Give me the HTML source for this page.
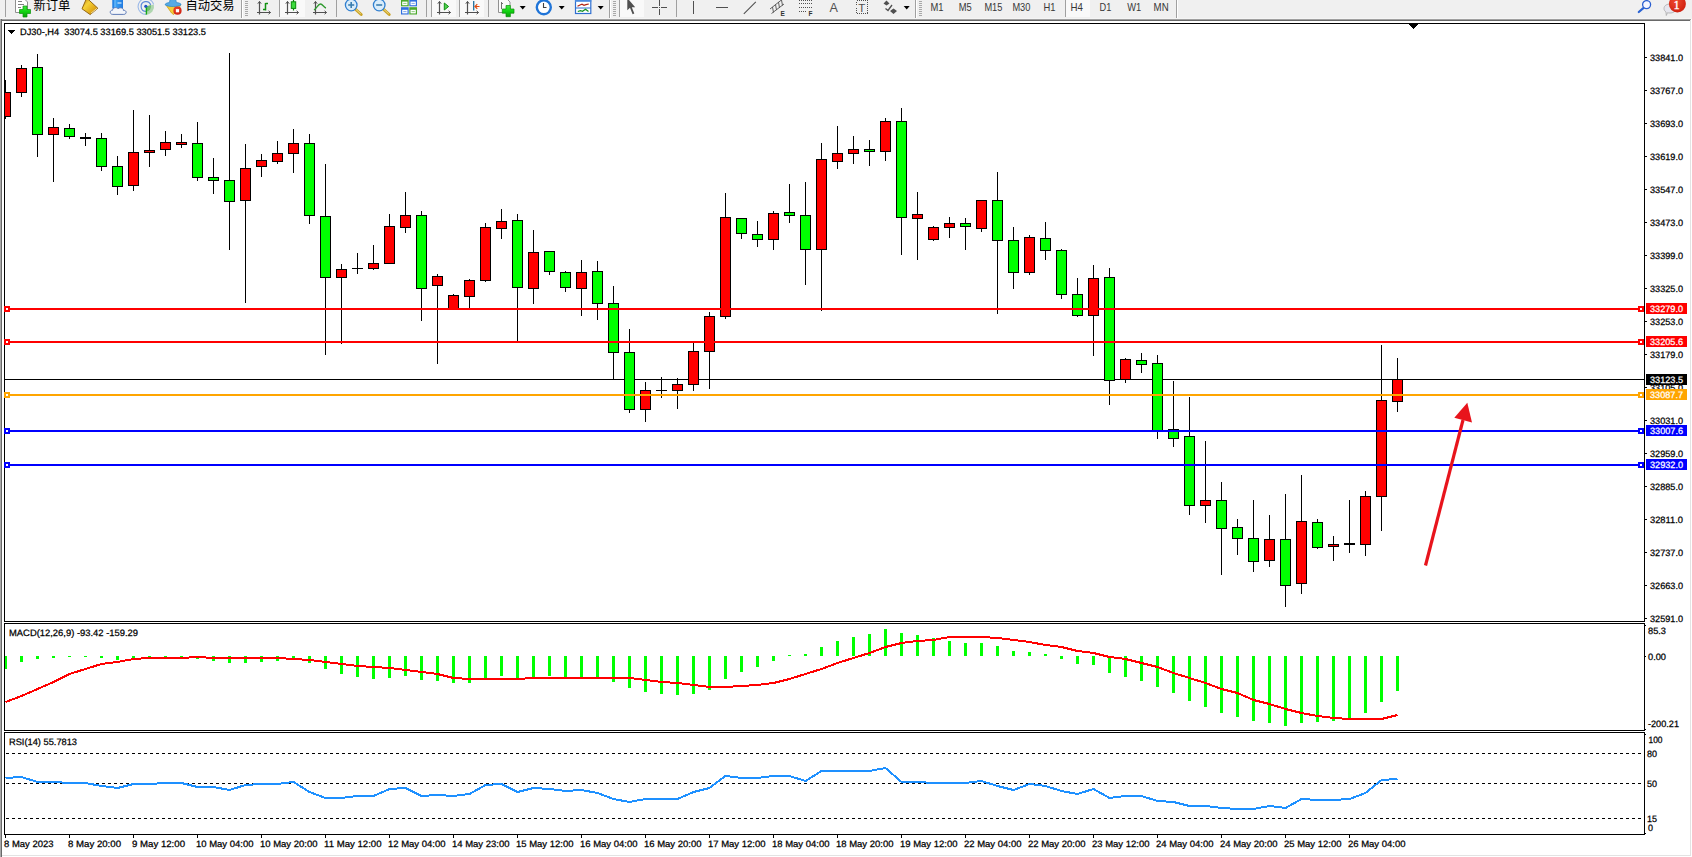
<!DOCTYPE html>
<html><head><meta charset="utf-8"><title>DJ30 H4</title>
<style>
html,body{margin:0;padding:0;background:#fff;}
body{width:1692px;height:857px;position:relative;overflow:hidden;font-family:"Liberation Sans","Noto Sans CJK SC",sans-serif;}
#frame-t{position:absolute;left:0;top:18px;width:1691px;height:3px;background:linear-gradient(180deg,#f5f5f5 0,#f5f5f5 1px,#a0a0a0 1px,#a0a0a0 2px,#696969 2px,#696969 3px);}
#frame-l{position:absolute;left:0;top:19px;width:2px;height:838px;background:linear-gradient(90deg,#a8a8a8 0,#a8a8a8 1px,#696969 1px,#696969 2px);}
#frame-r{position:absolute;left:1690px;top:20px;width:1px;height:836px;background:#e3e3e3;}
#frame-b{position:absolute;left:2px;top:855px;width:1689px;height:1px;background:#e3e3e3;}
#tb{position:absolute;left:0;top:0;width:1692px;height:19px;background:#f0f0f0;overflow:hidden;}
</style></head><body>
<svg width="1692" height="857" viewBox="0 0 1692 857" style="position:absolute;left:0;top:0" shape-rendering="crispEdges" text-rendering="geometricPrecision"><rect x="4" y="23" width="1641" height="1" fill="#000"/>
<rect x="4" y="621" width="1641" height="1" fill="#000"/>
<rect x="4" y="623" width="1641" height="1" fill="#000"/>
<rect x="4" y="730" width="1641" height="1" fill="#000"/>
<rect x="4" y="732" width="1641" height="1" fill="#000"/>
<rect x="4" y="834" width="1641" height="1" fill="#000"/>
<rect x="4" y="23" width="1" height="812" fill="#000"/>
<rect x="1644" y="23" width="1" height="812" fill="#000"/>
<rect x="4" y="622" width="1" height="1" fill="#fff"/>
<rect x="1644" y="622" width="1" height="1" fill="#fff"/>
<rect x="4" y="731" width="1" height="1" fill="#fff"/>
<rect x="1644" y="731" width="1" height="1" fill="#fff"/>
<rect x="5" y="379" width="1639" height="1" fill="#000"/>
<rect x="5" y="80" width="1" height="39" fill="#000"/>
<rect x="0" y="92" width="11" height="25" fill="#000"/>
<rect x="1" y="93" width="9" height="23" fill="#ff0000"/>
<rect x="21" y="65" width="1" height="32" fill="#000"/>
<rect x="16" y="68" width="11" height="25" fill="#000"/>
<rect x="17" y="69" width="9" height="23" fill="#ff0000"/>
<rect x="37" y="54" width="1" height="103" fill="#000"/>
<rect x="32" y="67" width="11" height="68" fill="#000"/>
<rect x="33" y="68" width="9" height="66" fill="#00ff00"/>
<rect x="53" y="118" width="1" height="64" fill="#000"/>
<rect x="48" y="127" width="11" height="8" fill="#000"/>
<rect x="49" y="128" width="9" height="6" fill="#ff0000"/>
<rect x="69" y="124" width="1" height="15" fill="#000"/>
<rect x="64" y="128" width="11" height="9" fill="#000"/>
<rect x="65" y="129" width="9" height="7" fill="#00ff00"/>
<rect x="85" y="133" width="1" height="13" fill="#000"/>
<rect x="80" y="137" width="11" height="2" fill="#000"/>
<rect x="101" y="133" width="1" height="38" fill="#000"/>
<rect x="96" y="138" width="11" height="29" fill="#000"/>
<rect x="97" y="139" width="9" height="27" fill="#00ff00"/>
<rect x="117" y="156" width="1" height="39" fill="#000"/>
<rect x="112" y="166" width="11" height="21" fill="#000"/>
<rect x="113" y="167" width="9" height="19" fill="#00ff00"/>
<rect x="133" y="110" width="1" height="81" fill="#000"/>
<rect x="128" y="152" width="11" height="34" fill="#000"/>
<rect x="129" y="153" width="9" height="32" fill="#ff0000"/>
<rect x="149" y="115" width="1" height="52" fill="#000"/>
<rect x="144" y="150" width="11" height="3" fill="#000"/>
<rect x="145" y="151" width="9" height="1" fill="#ff0000"/>
<rect x="165" y="131" width="1" height="25" fill="#000"/>
<rect x="160" y="142" width="11" height="8" fill="#000"/>
<rect x="161" y="143" width="9" height="6" fill="#ff0000"/>
<rect x="181" y="134" width="1" height="14" fill="#000"/>
<rect x="176" y="142" width="11" height="3" fill="#000"/>
<rect x="177" y="143" width="9" height="1" fill="#ff0000"/>
<rect x="197" y="122" width="1" height="59" fill="#000"/>
<rect x="192" y="143" width="11" height="35" fill="#000"/>
<rect x="193" y="144" width="9" height="33" fill="#00ff00"/>
<rect x="213" y="158" width="1" height="36" fill="#000"/>
<rect x="208" y="177" width="11" height="4" fill="#000"/>
<rect x="209" y="178" width="9" height="2" fill="#00ff00"/>
<rect x="229" y="53" width="1" height="197" fill="#000"/>
<rect x="224" y="180" width="11" height="22" fill="#000"/>
<rect x="225" y="181" width="9" height="20" fill="#00ff00"/>
<rect x="245" y="144" width="1" height="159" fill="#000"/>
<rect x="240" y="168" width="11" height="33" fill="#000"/>
<rect x="241" y="169" width="9" height="31" fill="#ff0000"/>
<rect x="261" y="154" width="1" height="23" fill="#000"/>
<rect x="256" y="160" width="11" height="7" fill="#000"/>
<rect x="257" y="161" width="9" height="5" fill="#ff0000"/>
<rect x="277" y="141" width="1" height="23" fill="#000"/>
<rect x="272" y="153" width="11" height="9" fill="#000"/>
<rect x="273" y="154" width="9" height="7" fill="#ff0000"/>
<rect x="293" y="129" width="1" height="44" fill="#000"/>
<rect x="288" y="143" width="11" height="11" fill="#000"/>
<rect x="289" y="144" width="9" height="9" fill="#ff0000"/>
<rect x="309" y="134" width="1" height="90" fill="#000"/>
<rect x="304" y="143" width="11" height="73" fill="#000"/>
<rect x="305" y="144" width="9" height="71" fill="#00ff00"/>
<rect x="325" y="164" width="1" height="191" fill="#000"/>
<rect x="320" y="216" width="11" height="62" fill="#000"/>
<rect x="321" y="217" width="9" height="60" fill="#00ff00"/>
<rect x="341" y="264" width="1" height="80" fill="#000"/>
<rect x="336" y="269" width="11" height="9" fill="#000"/>
<rect x="337" y="270" width="9" height="7" fill="#ff0000"/>
<rect x="357" y="253" width="1" height="21" fill="#000"/>
<rect x="352" y="268" width="11" height="1" fill="#000"/>
<rect x="373" y="245" width="1" height="25" fill="#000"/>
<rect x="368" y="263" width="11" height="6" fill="#000"/>
<rect x="369" y="264" width="9" height="4" fill="#ff0000"/>
<rect x="389" y="214" width="1" height="50" fill="#000"/>
<rect x="384" y="226" width="11" height="38" fill="#000"/>
<rect x="385" y="227" width="9" height="36" fill="#ff0000"/>
<rect x="405" y="192" width="1" height="41" fill="#000"/>
<rect x="400" y="215" width="11" height="13" fill="#000"/>
<rect x="401" y="216" width="9" height="11" fill="#ff0000"/>
<rect x="421" y="211" width="1" height="110" fill="#000"/>
<rect x="416" y="215" width="11" height="74" fill="#000"/>
<rect x="417" y="216" width="9" height="72" fill="#00ff00"/>
<rect x="437" y="274" width="1" height="90" fill="#000"/>
<rect x="432" y="276" width="11" height="10" fill="#000"/>
<rect x="433" y="277" width="9" height="8" fill="#ff0000"/>
<rect x="453" y="294" width="1" height="16" fill="#000"/>
<rect x="448" y="295" width="11" height="15" fill="#000"/>
<rect x="449" y="296" width="9" height="13" fill="#ff0000"/>
<rect x="469" y="279" width="1" height="29" fill="#000"/>
<rect x="464" y="280" width="11" height="17" fill="#000"/>
<rect x="465" y="281" width="9" height="15" fill="#ff0000"/>
<rect x="485" y="223" width="1" height="59" fill="#000"/>
<rect x="480" y="227" width="11" height="54" fill="#000"/>
<rect x="481" y="228" width="9" height="52" fill="#ff0000"/>
<rect x="501" y="209" width="1" height="30" fill="#000"/>
<rect x="496" y="221" width="11" height="8" fill="#000"/>
<rect x="497" y="222" width="9" height="6" fill="#ff0000"/>
<rect x="517" y="214" width="1" height="127" fill="#000"/>
<rect x="512" y="220" width="11" height="68" fill="#000"/>
<rect x="513" y="221" width="9" height="66" fill="#00ff00"/>
<rect x="533" y="230" width="1" height="74" fill="#000"/>
<rect x="528" y="252" width="11" height="37" fill="#000"/>
<rect x="529" y="253" width="9" height="35" fill="#ff0000"/>
<rect x="549" y="251" width="1" height="24" fill="#000"/>
<rect x="544" y="251" width="11" height="21" fill="#000"/>
<rect x="545" y="252" width="9" height="19" fill="#00ff00"/>
<rect x="565" y="271" width="1" height="21" fill="#000"/>
<rect x="560" y="272" width="11" height="16" fill="#000"/>
<rect x="561" y="273" width="9" height="14" fill="#00ff00"/>
<rect x="581" y="260" width="1" height="56" fill="#000"/>
<rect x="576" y="272" width="11" height="17" fill="#000"/>
<rect x="577" y="273" width="9" height="15" fill="#ff0000"/>
<rect x="597" y="261" width="1" height="59" fill="#000"/>
<rect x="592" y="271" width="11" height="33" fill="#000"/>
<rect x="593" y="272" width="9" height="31" fill="#00ff00"/>
<rect x="613" y="286" width="1" height="93" fill="#000"/>
<rect x="608" y="303" width="11" height="50" fill="#000"/>
<rect x="609" y="304" width="9" height="48" fill="#00ff00"/>
<rect x="629" y="329" width="1" height="84" fill="#000"/>
<rect x="624" y="352" width="11" height="58" fill="#000"/>
<rect x="625" y="353" width="9" height="56" fill="#00ff00"/>
<rect x="645" y="382" width="1" height="40" fill="#000"/>
<rect x="640" y="390" width="11" height="20" fill="#000"/>
<rect x="641" y="391" width="9" height="18" fill="#ff0000"/>
<rect x="661" y="377" width="1" height="21" fill="#000"/>
<rect x="656" y="390" width="11" height="1" fill="#000"/>
<rect x="677" y="378" width="1" height="31" fill="#000"/>
<rect x="672" y="384" width="11" height="7" fill="#000"/>
<rect x="673" y="385" width="9" height="5" fill="#ff0000"/>
<rect x="693" y="343" width="1" height="48" fill="#000"/>
<rect x="688" y="351" width="11" height="34" fill="#000"/>
<rect x="689" y="352" width="9" height="32" fill="#ff0000"/>
<rect x="709" y="312" width="1" height="77" fill="#000"/>
<rect x="704" y="316" width="11" height="36" fill="#000"/>
<rect x="705" y="317" width="9" height="34" fill="#ff0000"/>
<rect x="725" y="193" width="1" height="126" fill="#000"/>
<rect x="720" y="217" width="11" height="100" fill="#000"/>
<rect x="721" y="218" width="9" height="98" fill="#ff0000"/>
<rect x="741" y="218" width="1" height="21" fill="#000"/>
<rect x="736" y="218" width="11" height="16" fill="#000"/>
<rect x="737" y="219" width="9" height="14" fill="#00ff00"/>
<rect x="757" y="221" width="1" height="26" fill="#000"/>
<rect x="752" y="234" width="11" height="6" fill="#000"/>
<rect x="753" y="235" width="9" height="4" fill="#00ff00"/>
<rect x="773" y="211" width="1" height="39" fill="#000"/>
<rect x="768" y="213" width="11" height="27" fill="#000"/>
<rect x="769" y="214" width="9" height="25" fill="#ff0000"/>
<rect x="789" y="184" width="1" height="39" fill="#000"/>
<rect x="784" y="212" width="11" height="4" fill="#000"/>
<rect x="785" y="213" width="9" height="2" fill="#00ff00"/>
<rect x="805" y="182" width="1" height="103" fill="#000"/>
<rect x="800" y="215" width="11" height="35" fill="#000"/>
<rect x="801" y="216" width="9" height="33" fill="#00ff00"/>
<rect x="821" y="143" width="1" height="168" fill="#000"/>
<rect x="816" y="159" width="11" height="91" fill="#000"/>
<rect x="817" y="160" width="9" height="89" fill="#ff0000"/>
<rect x="837" y="126" width="1" height="43" fill="#000"/>
<rect x="832" y="153" width="11" height="9" fill="#000"/>
<rect x="833" y="154" width="9" height="7" fill="#ff0000"/>
<rect x="853" y="136" width="1" height="28" fill="#000"/>
<rect x="848" y="149" width="11" height="5" fill="#000"/>
<rect x="849" y="150" width="9" height="3" fill="#ff0000"/>
<rect x="869" y="140" width="1" height="26" fill="#000"/>
<rect x="864" y="149" width="11" height="3" fill="#000"/>
<rect x="865" y="150" width="9" height="1" fill="#00ff00"/>
<rect x="885" y="118" width="1" height="43" fill="#000"/>
<rect x="880" y="121" width="11" height="31" fill="#000"/>
<rect x="881" y="122" width="9" height="29" fill="#ff0000"/>
<rect x="901" y="108" width="1" height="147" fill="#000"/>
<rect x="896" y="121" width="11" height="97" fill="#000"/>
<rect x="897" y="122" width="9" height="95" fill="#00ff00"/>
<rect x="917" y="192" width="1" height="68" fill="#000"/>
<rect x="912" y="214" width="11" height="5" fill="#000"/>
<rect x="913" y="215" width="9" height="3" fill="#ff0000"/>
<rect x="933" y="226" width="1" height="15" fill="#000"/>
<rect x="928" y="227" width="11" height="13" fill="#000"/>
<rect x="929" y="228" width="9" height="11" fill="#ff0000"/>
<rect x="949" y="217" width="1" height="21" fill="#000"/>
<rect x="944" y="223" width="11" height="5" fill="#000"/>
<rect x="945" y="224" width="9" height="3" fill="#ff0000"/>
<rect x="965" y="218" width="1" height="32" fill="#000"/>
<rect x="960" y="223" width="11" height="4" fill="#000"/>
<rect x="961" y="224" width="9" height="2" fill="#00ff00"/>
<rect x="981" y="200" width="1" height="32" fill="#000"/>
<rect x="976" y="200" width="11" height="29" fill="#000"/>
<rect x="977" y="201" width="9" height="27" fill="#ff0000"/>
<rect x="997" y="172" width="1" height="142" fill="#000"/>
<rect x="992" y="200" width="11" height="41" fill="#000"/>
<rect x="993" y="201" width="9" height="39" fill="#00ff00"/>
<rect x="1013" y="227" width="1" height="62" fill="#000"/>
<rect x="1008" y="240" width="11" height="33" fill="#000"/>
<rect x="1009" y="241" width="9" height="31" fill="#00ff00"/>
<rect x="1029" y="235" width="1" height="40" fill="#000"/>
<rect x="1024" y="237" width="11" height="36" fill="#000"/>
<rect x="1025" y="238" width="9" height="34" fill="#ff0000"/>
<rect x="1045" y="222" width="1" height="38" fill="#000"/>
<rect x="1040" y="238" width="11" height="13" fill="#000"/>
<rect x="1041" y="239" width="9" height="11" fill="#00ff00"/>
<rect x="1061" y="249" width="1" height="50" fill="#000"/>
<rect x="1056" y="250" width="11" height="45" fill="#000"/>
<rect x="1057" y="251" width="9" height="43" fill="#00ff00"/>
<rect x="1077" y="278" width="1" height="39" fill="#000"/>
<rect x="1072" y="294" width="11" height="22" fill="#000"/>
<rect x="1073" y="295" width="9" height="20" fill="#00ff00"/>
<rect x="1093" y="265" width="1" height="91" fill="#000"/>
<rect x="1088" y="278" width="11" height="38" fill="#000"/>
<rect x="1089" y="279" width="9" height="36" fill="#ff0000"/>
<rect x="1109" y="268" width="1" height="137" fill="#000"/>
<rect x="1104" y="277" width="11" height="104" fill="#000"/>
<rect x="1105" y="278" width="9" height="102" fill="#00ff00"/>
<rect x="1125" y="358" width="1" height="25" fill="#000"/>
<rect x="1120" y="359" width="11" height="21" fill="#000"/>
<rect x="1121" y="360" width="9" height="19" fill="#ff0000"/>
<rect x="1141" y="353" width="1" height="20" fill="#000"/>
<rect x="1136" y="360" width="11" height="5" fill="#000"/>
<rect x="1137" y="361" width="9" height="3" fill="#00ff00"/>
<rect x="1157" y="355" width="1" height="84" fill="#000"/>
<rect x="1152" y="363" width="11" height="69" fill="#000"/>
<rect x="1153" y="364" width="9" height="67" fill="#00ff00"/>
<rect x="1173" y="381" width="1" height="66" fill="#000"/>
<rect x="1168" y="429" width="11" height="10" fill="#000"/>
<rect x="1169" y="430" width="9" height="8" fill="#00ff00"/>
<rect x="1189" y="397" width="1" height="118" fill="#000"/>
<rect x="1184" y="436" width="11" height="70" fill="#000"/>
<rect x="1185" y="437" width="9" height="68" fill="#00ff00"/>
<rect x="1205" y="441" width="1" height="82" fill="#000"/>
<rect x="1200" y="500" width="11" height="6" fill="#000"/>
<rect x="1201" y="501" width="9" height="4" fill="#ff0000"/>
<rect x="1221" y="482" width="1" height="93" fill="#000"/>
<rect x="1216" y="500" width="11" height="29" fill="#000"/>
<rect x="1217" y="501" width="9" height="27" fill="#00ff00"/>
<rect x="1237" y="519" width="1" height="36" fill="#000"/>
<rect x="1232" y="527" width="11" height="12" fill="#000"/>
<rect x="1233" y="528" width="9" height="10" fill="#00ff00"/>
<rect x="1253" y="500" width="1" height="72" fill="#000"/>
<rect x="1248" y="538" width="11" height="24" fill="#000"/>
<rect x="1249" y="539" width="9" height="22" fill="#00ff00"/>
<rect x="1269" y="515" width="1" height="52" fill="#000"/>
<rect x="1264" y="539" width="11" height="22" fill="#000"/>
<rect x="1265" y="540" width="9" height="20" fill="#ff0000"/>
<rect x="1285" y="494" width="1" height="113" fill="#000"/>
<rect x="1280" y="539" width="11" height="47" fill="#000"/>
<rect x="1281" y="540" width="9" height="45" fill="#00ff00"/>
<rect x="1301" y="475" width="1" height="119" fill="#000"/>
<rect x="1296" y="521" width="11" height="63" fill="#000"/>
<rect x="1297" y="522" width="9" height="61" fill="#ff0000"/>
<rect x="1317" y="519" width="1" height="30" fill="#000"/>
<rect x="1312" y="522" width="11" height="26" fill="#000"/>
<rect x="1313" y="523" width="9" height="24" fill="#00ff00"/>
<rect x="1333" y="536" width="1" height="25" fill="#000"/>
<rect x="1328" y="544" width="11" height="3" fill="#000"/>
<rect x="1329" y="545" width="9" height="1" fill="#ff0000"/>
<rect x="1349" y="500" width="1" height="53" fill="#000"/>
<rect x="1344" y="543" width="11" height="2" fill="#000"/>
<rect x="1365" y="491" width="1" height="65" fill="#000"/>
<rect x="1360" y="496" width="11" height="49" fill="#000"/>
<rect x="1361" y="497" width="9" height="47" fill="#ff0000"/>
<rect x="1381" y="345" width="1" height="186" fill="#000"/>
<rect x="1376" y="400" width="11" height="97" fill="#000"/>
<rect x="1377" y="401" width="9" height="95" fill="#ff0000"/>
<rect x="1397" y="358" width="1" height="54" fill="#000"/>
<rect x="1392" y="379" width="11" height="23" fill="#000"/>
<rect x="1393" y="380" width="9" height="21" fill="#ff0000"/>
<rect x="0" y="21" width="4" height="836" fill="#fff"/>
<rect x="4" y="24" width="1" height="597" fill="#000"/>
<rect x="5" y="308" width="1639" height="2" fill="#ff0000"/>
<rect x="4" y="306" width="6" height="6" fill="#ff0000"/>
<rect x="6" y="308" width="2" height="2" fill="#fff"/>
<rect x="1638" y="306" width="6" height="6" fill="#ff0000"/>
<rect x="1640" y="308" width="2" height="2" fill="#fff"/>
<rect x="5" y="341" width="1639" height="2" fill="#ff0000"/>
<rect x="4" y="339" width="6" height="6" fill="#ff0000"/>
<rect x="6" y="341" width="2" height="2" fill="#fff"/>
<rect x="1638" y="339" width="6" height="6" fill="#ff0000"/>
<rect x="1640" y="341" width="2" height="2" fill="#fff"/>
<rect x="5" y="394" width="1639" height="2" fill="#ffa500"/>
<rect x="4" y="392" width="6" height="6" fill="#ffa500"/>
<rect x="6" y="394" width="2" height="2" fill="#fff"/>
<rect x="1638" y="392" width="6" height="6" fill="#ffa500"/>
<rect x="1640" y="394" width="2" height="2" fill="#fff"/>
<rect x="5" y="430" width="1639" height="2" fill="#0000ff"/>
<rect x="4" y="428" width="6" height="6" fill="#0000ff"/>
<rect x="6" y="430" width="2" height="2" fill="#fff"/>
<rect x="1638" y="428" width="6" height="6" fill="#0000ff"/>
<rect x="1640" y="430" width="2" height="2" fill="#fff"/>
<rect x="5" y="464" width="1639" height="2" fill="#0000ff"/>
<rect x="4" y="462" width="6" height="6" fill="#0000ff"/>
<rect x="6" y="464" width="2" height="2" fill="#fff"/>
<rect x="1638" y="462" width="6" height="6" fill="#0000ff"/>
<rect x="1640" y="464" width="2" height="2" fill="#fff"/>
<line x1="1425.5" y1="565.5" x2="1463" y2="420" stroke="#e8141c" stroke-width="3.2" shape-rendering="auto"/>
<polygon points="1467.3,402.8 1454.3,417.8 1472,422.6" fill="#e8141c" shape-rendering="auto"/>
<g style="font-family:'Liberation Sans',sans-serif">
<rect x="1645" y="57" width="2" height="1" fill="#000"/>
<text x="1650" y="60.5" font-size="9.2" fill="#000" stroke="#000" stroke-width="0.25" text-anchor="start" textLength="33" lengthAdjust="spacingAndGlyphs">33841.0</text>
<rect x="1645" y="90" width="2" height="1" fill="#000"/>
<text x="1650" y="93.5" font-size="9.2" fill="#000" stroke="#000" stroke-width="0.25" text-anchor="start" textLength="33" lengthAdjust="spacingAndGlyphs">33767.0</text>
<rect x="1645" y="123" width="2" height="1" fill="#000"/>
<text x="1650" y="126.5" font-size="9.2" fill="#000" stroke="#000" stroke-width="0.25" text-anchor="start" textLength="33" lengthAdjust="spacingAndGlyphs">33693.0</text>
<rect x="1645" y="156" width="2" height="1" fill="#000"/>
<text x="1650" y="159.5" font-size="9.2" fill="#000" stroke="#000" stroke-width="0.25" text-anchor="start" textLength="33" lengthAdjust="spacingAndGlyphs">33619.0</text>
<rect x="1645" y="189" width="2" height="1" fill="#000"/>
<text x="1650" y="192.5" font-size="9.2" fill="#000" stroke="#000" stroke-width="0.25" text-anchor="start" textLength="33" lengthAdjust="spacingAndGlyphs">33547.0</text>
<rect x="1645" y="222" width="2" height="1" fill="#000"/>
<text x="1650" y="225.5" font-size="9.2" fill="#000" stroke="#000" stroke-width="0.25" text-anchor="start" textLength="33" lengthAdjust="spacingAndGlyphs">33473.0</text>
<rect x="1645" y="255" width="2" height="1" fill="#000"/>
<text x="1650" y="258.5" font-size="9.2" fill="#000" stroke="#000" stroke-width="0.25" text-anchor="start" textLength="33" lengthAdjust="spacingAndGlyphs">33399.0</text>
<rect x="1645" y="288" width="2" height="1" fill="#000"/>
<text x="1650" y="291.5" font-size="9.2" fill="#000" stroke="#000" stroke-width="0.25" text-anchor="start" textLength="33" lengthAdjust="spacingAndGlyphs">33325.0</text>
<rect x="1645" y="321" width="2" height="1" fill="#000"/>
<text x="1650" y="324.5" font-size="9.2" fill="#000" stroke="#000" stroke-width="0.25" text-anchor="start" textLength="33" lengthAdjust="spacingAndGlyphs">33253.0</text>
<rect x="1645" y="354" width="2" height="1" fill="#000"/>
<text x="1650" y="357.5" font-size="9.2" fill="#000" stroke="#000" stroke-width="0.25" text-anchor="start" textLength="33" lengthAdjust="spacingAndGlyphs">33179.0</text>
<rect x="1645" y="387" width="2" height="1" fill="#000"/>
<text x="1650" y="390.5" font-size="9.2" fill="#000" stroke="#000" stroke-width="0.25" text-anchor="start" textLength="33" lengthAdjust="spacingAndGlyphs">33105.0</text>
<rect x="1645" y="420" width="2" height="1" fill="#000"/>
<text x="1650" y="423.5" font-size="9.2" fill="#000" stroke="#000" stroke-width="0.25" text-anchor="start" textLength="33" lengthAdjust="spacingAndGlyphs">33031.0</text>
<rect x="1645" y="453" width="2" height="1" fill="#000"/>
<text x="1650" y="456.5" font-size="9.2" fill="#000" stroke="#000" stroke-width="0.25" text-anchor="start" textLength="33" lengthAdjust="spacingAndGlyphs">32959.0</text>
<rect x="1645" y="486" width="2" height="1" fill="#000"/>
<text x="1650" y="489.5" font-size="9.2" fill="#000" stroke="#000" stroke-width="0.25" text-anchor="start" textLength="33" lengthAdjust="spacingAndGlyphs">32885.0</text>
<rect x="1645" y="519" width="2" height="1" fill="#000"/>
<text x="1650" y="522.5" font-size="9.2" fill="#000" stroke="#000" stroke-width="0.25" text-anchor="start" textLength="33" lengthAdjust="spacingAndGlyphs">32811.0</text>
<rect x="1645" y="552" width="2" height="1" fill="#000"/>
<text x="1650" y="555.5" font-size="9.2" fill="#000" stroke="#000" stroke-width="0.25" text-anchor="start" textLength="33" lengthAdjust="spacingAndGlyphs">32737.0</text>
<rect x="1645" y="585" width="2" height="1" fill="#000"/>
<text x="1650" y="588.5" font-size="9.2" fill="#000" stroke="#000" stroke-width="0.25" text-anchor="start" textLength="33" lengthAdjust="spacingAndGlyphs">32663.0</text>
<rect x="1645" y="618" width="2" height="1" fill="#000"/>
<text x="1650" y="621.5" font-size="9.2" fill="#000" stroke="#000" stroke-width="0.25" text-anchor="start" textLength="33" lengthAdjust="spacingAndGlyphs">32591.0</text>
<rect x="1646" y="303" width="41" height="11" fill="#ff0000"/>
<text x="1650" y="311.8" font-size="9.2" fill="#fff" stroke="#fff" stroke-width="0.25" text-anchor="start" textLength="33" lengthAdjust="spacingAndGlyphs">33279.0</text>
<rect x="1646" y="336" width="41" height="11" fill="#ff0000"/>
<text x="1650" y="344.8" font-size="9.2" fill="#fff" stroke="#fff" stroke-width="0.25" text-anchor="start" textLength="33" lengthAdjust="spacingAndGlyphs">33205.6</text>
<rect x="1646" y="389" width="41" height="11" fill="#ffa500"/>
<text x="1650" y="397.8" font-size="9.2" fill="#fff" stroke="#fff" stroke-width="0.25" text-anchor="start" textLength="33" lengthAdjust="spacingAndGlyphs">33087.7</text>
<rect x="1646" y="425" width="41" height="11" fill="#0000ff"/>
<text x="1650" y="433.8" font-size="9.2" fill="#fff" stroke="#fff" stroke-width="0.25" text-anchor="start" textLength="33" lengthAdjust="spacingAndGlyphs">33007.6</text>
<rect x="1646" y="459" width="41" height="11" fill="#0000ff"/>
<text x="1650" y="467.8" font-size="9.2" fill="#fff" stroke="#fff" stroke-width="0.25" text-anchor="start" textLength="33" lengthAdjust="spacingAndGlyphs">32932.0</text>
<rect x="1646" y="374" width="41" height="11" fill="#000"/>
<text x="1650" y="382.7" font-size="9.2" fill="#fff" stroke="#fff" stroke-width="0.25" text-anchor="start" textLength="33" lengthAdjust="spacingAndGlyphs">33123.5</text>
<rect x="1646" y="389" width="41" height="11" fill="#ffa500"/>
<text x="1650" y="397.8" font-size="9.2" fill="#fff" stroke="#fff" stroke-width="0.25" text-anchor="start" textLength="33" lengthAdjust="spacingAndGlyphs">33087.7</text>
<rect x="4" y="656" width="3" height="13" fill="#00ff00"/>
<rect x="20" y="656" width="3" height="6" fill="#00ff00"/>
<rect x="36" y="656" width="3" height="3" fill="#00ff00"/>
<rect x="52" y="656" width="3" height="2" fill="#00ff00"/>
<rect x="68" y="656" width="3" height="1" fill="#00ff00"/>
<rect x="84" y="656" width="3" height="1" fill="#00ff00"/>
<rect x="100" y="656" width="3" height="2" fill="#00ff00"/>
<rect x="116" y="656" width="3" height="4" fill="#00ff00"/>
<rect x="132" y="656" width="3" height="3" fill="#00ff00"/>
<rect x="148" y="656" width="3" height="3" fill="#00ff00"/>
<rect x="164" y="656" width="3" height="2" fill="#00ff00"/>
<rect x="180" y="656" width="3" height="2" fill="#00ff00"/>
<rect x="196" y="656" width="3" height="3" fill="#00ff00"/>
<rect x="212" y="656" width="3" height="5" fill="#00ff00"/>
<rect x="228" y="656" width="3" height="7" fill="#00ff00"/>
<rect x="244" y="656" width="3" height="7" fill="#00ff00"/>
<rect x="260" y="656" width="3" height="6" fill="#00ff00"/>
<rect x="276" y="656" width="3" height="5" fill="#00ff00"/>
<rect x="292" y="656" width="3" height="4" fill="#00ff00"/>
<rect x="308" y="656" width="3" height="7" fill="#00ff00"/>
<rect x="324" y="656" width="3" height="13" fill="#00ff00"/>
<rect x="340" y="656" width="3" height="18" fill="#00ff00"/>
<rect x="356" y="656" width="3" height="21" fill="#00ff00"/>
<rect x="372" y="656" width="3" height="23" fill="#00ff00"/>
<rect x="388" y="656" width="3" height="22" fill="#00ff00"/>
<rect x="404" y="656" width="3" height="20" fill="#00ff00"/>
<rect x="420" y="656" width="3" height="24" fill="#00ff00"/>
<rect x="436" y="656" width="3" height="25" fill="#00ff00"/>
<rect x="452" y="656" width="3" height="27" fill="#00ff00"/>
<rect x="468" y="656" width="3" height="27" fill="#00ff00"/>
<rect x="484" y="656" width="3" height="23" fill="#00ff00"/>
<rect x="500" y="656" width="3" height="20" fill="#00ff00"/>
<rect x="516" y="656" width="3" height="23" fill="#00ff00"/>
<rect x="532" y="656" width="3" height="22" fill="#00ff00"/>
<rect x="548" y="656" width="3" height="20" fill="#00ff00"/>
<rect x="564" y="656" width="3" height="22" fill="#00ff00"/>
<rect x="580" y="656" width="3" height="22" fill="#00ff00"/>
<rect x="596" y="656" width="3" height="23" fill="#00ff00"/>
<rect x="612" y="656" width="3" height="26" fill="#00ff00"/>
<rect x="628" y="656" width="3" height="32" fill="#00ff00"/>
<rect x="644" y="656" width="3" height="36" fill="#00ff00"/>
<rect x="660" y="656" width="3" height="38" fill="#00ff00"/>
<rect x="676" y="656" width="3" height="39" fill="#00ff00"/>
<rect x="692" y="656" width="3" height="38" fill="#00ff00"/>
<rect x="708" y="656" width="3" height="34" fill="#00ff00"/>
<rect x="724" y="656" width="3" height="23" fill="#00ff00"/>
<rect x="740" y="656" width="3" height="16" fill="#00ff00"/>
<rect x="756" y="656" width="3" height="11" fill="#00ff00"/>
<rect x="772" y="656" width="3" height="5" fill="#00ff00"/>
<rect x="788" y="655" width="3" height="1" fill="#00ff00"/>
<rect x="804" y="654" width="3" height="2" fill="#00ff00"/>
<rect x="820" y="647" width="3" height="9" fill="#00ff00"/>
<rect x="836" y="641" width="3" height="15" fill="#00ff00"/>
<rect x="852" y="637" width="3" height="19" fill="#00ff00"/>
<rect x="868" y="634" width="3" height="22" fill="#00ff00"/>
<rect x="884" y="629" width="3" height="27" fill="#00ff00"/>
<rect x="900" y="633" width="3" height="23" fill="#00ff00"/>
<rect x="916" y="635" width="3" height="21" fill="#00ff00"/>
<rect x="932" y="638" width="3" height="18" fill="#00ff00"/>
<rect x="948" y="641" width="3" height="15" fill="#00ff00"/>
<rect x="964" y="643" width="3" height="13" fill="#00ff00"/>
<rect x="980" y="643" width="3" height="13" fill="#00ff00"/>
<rect x="996" y="646" width="3" height="10" fill="#00ff00"/>
<rect x="1012" y="651" width="3" height="5" fill="#00ff00"/>
<rect x="1028" y="652" width="3" height="4" fill="#00ff00"/>
<rect x="1044" y="654" width="3" height="2" fill="#00ff00"/>
<rect x="1060" y="656" width="3" height="3" fill="#00ff00"/>
<rect x="1076" y="656" width="3" height="8" fill="#00ff00"/>
<rect x="1092" y="656" width="3" height="9" fill="#00ff00"/>
<rect x="1108" y="656" width="3" height="17" fill="#00ff00"/>
<rect x="1124" y="656" width="3" height="21" fill="#00ff00"/>
<rect x="1140" y="656" width="3" height="25" fill="#00ff00"/>
<rect x="1156" y="656" width="3" height="31" fill="#00ff00"/>
<rect x="1172" y="656" width="3" height="37" fill="#00ff00"/>
<rect x="1188" y="656" width="3" height="45" fill="#00ff00"/>
<rect x="1204" y="656" width="3" height="51" fill="#00ff00"/>
<rect x="1220" y="656" width="3" height="57" fill="#00ff00"/>
<rect x="1236" y="656" width="3" height="61" fill="#00ff00"/>
<rect x="1252" y="656" width="3" height="65" fill="#00ff00"/>
<rect x="1268" y="656" width="3" height="67" fill="#00ff00"/>
<rect x="1284" y="656" width="3" height="70" fill="#00ff00"/>
<rect x="1300" y="656" width="3" height="67" fill="#00ff00"/>
<rect x="1316" y="656" width="3" height="66" fill="#00ff00"/>
<rect x="1332" y="656" width="3" height="65" fill="#00ff00"/>
<rect x="1348" y="656" width="3" height="63" fill="#00ff00"/>
<rect x="1364" y="656" width="3" height="57" fill="#00ff00"/>
<rect x="1380" y="656" width="3" height="46" fill="#00ff00"/>
<rect x="1396" y="656" width="3" height="35" fill="#00ff00"/>
<polyline points="5.5,702 21.5,696 37.5,689 53.5,682 69.5,674 85.5,669 101.5,664 117.5,662 133.5,659 149.5,658 165.5,658 181.5,658 197.5,657 213.5,658 229.5,658 245.5,658 261.5,658 277.5,658 293.5,659 309.5,660 325.5,662 341.5,664 357.5,666 373.5,667 389.5,668 405.5,670 421.5,672 437.5,674 453.5,678 469.5,679 485.5,679 501.5,679 517.5,679 533.5,678 549.5,678 565.5,678 581.5,678 597.5,678 613.5,678 629.5,678 645.5,680 661.5,682 677.5,683 693.5,685 709.5,687 725.5,687 741.5,686 757.5,685 773.5,683 789.5,679 805.5,674 821.5,669 837.5,663 853.5,658 869.5,653 885.5,647 901.5,643 917.5,641 933.5,640 949.5,637 965.5,637 981.5,637 997.5,638 1013.5,640 1029.5,642 1045.5,645 1061.5,647 1077.5,651 1093.5,653 1109.5,657 1125.5,659 1141.5,663 1157.5,667 1173.5,673 1189.5,678 1205.5,683 1221.5,689 1237.5,693 1253.5,700 1269.5,704 1285.5,709 1301.5,713 1317.5,716 1333.5,718 1349.5,719 1365.5,719 1381.5,719 1397.5,715" fill="none" stroke="#ff0000" stroke-width="2" stroke-linejoin="round"/>
<rect x="0" y="622" width="5" height="110" fill="#fff"/>
<rect x="4" y="623" width="1" height="108" fill="#000"/>
<rect x="1645" y="625" width="1" height="1" fill="#000"/>
<text x="1648" y="634" font-size="9.2" fill="#000" stroke="#000" stroke-width="0.25" text-anchor="start" textLength="18" lengthAdjust="spacingAndGlyphs">85.3</text>
<rect x="1645" y="656" width="1" height="1" fill="#000"/>
<text x="1648" y="660" font-size="9.2" fill="#000" stroke="#000" stroke-width="0.25" text-anchor="start" textLength="18" lengthAdjust="spacingAndGlyphs">0.00</text>
<rect x="1645" y="729" width="1" height="1" fill="#000"/>
<text x="1648" y="727" font-size="9.2" fill="#000" stroke="#000" stroke-width="0.25" text-anchor="start" textLength="31" lengthAdjust="spacingAndGlyphs">-200.21</text>
<text x="9" y="636" font-size="9.2" fill="#000" stroke="#000" stroke-width="0.25" text-anchor="start" textLength="129" lengthAdjust="spacingAndGlyphs">MACD(12,26,9) -93.42 -159.29</text>
<line x1="6" y1="753.5" x2="1644" y2="753.5" stroke="#000" stroke-width="1" stroke-dasharray="3 3" shape-rendering="crispEdges"/>
<line x1="6" y1="783.5" x2="1644" y2="783.5" stroke="#000" stroke-width="1" stroke-dasharray="3 3" shape-rendering="crispEdges"/>
<line x1="6" y1="818.5" x2="1644" y2="818.5" stroke="#000" stroke-width="1" stroke-dasharray="3 3" shape-rendering="crispEdges"/>
<polyline points="5.5,778 21.5,777 37.5,782 53.5,782 69.5,783 85.5,783 101.5,786 117.5,788 133.5,784 149.5,784 165.5,783 181.5,783 197.5,787 213.5,787 229.5,790 245.5,785 261.5,784 277.5,784 293.5,782 309.5,792 325.5,798 341.5,798 357.5,796 373.5,796 389.5,789 405.5,788 421.5,796 437.5,795 453.5,796 469.5,794 485.5,785 501.5,784 517.5,792 533.5,788 549.5,789 565.5,791 581.5,790 597.5,793 613.5,799 629.5,802 645.5,799 661.5,799 677.5,799 693.5,792 709.5,788 725.5,776 741.5,778 757.5,778 773.5,776 789.5,776 805.5,781 821.5,771 837.5,771 853.5,771 869.5,771 885.5,768 901.5,782 917.5,782 933.5,783 949.5,783 965.5,783 981.5,781 997.5,786 1013.5,790 1029.5,784 1045.5,786 1061.5,791 1077.5,794 1093.5,789 1109.5,798 1125.5,796 1141.5,796 1157.5,801 1173.5,802 1189.5,806 1205.5,806 1221.5,808 1237.5,809 1253.5,809 1269.5,806 1285.5,808 1301.5,799 1317.5,800 1333.5,800 1349.5,799 1365.5,793 1381.5,780 1397.5,779" fill="none" stroke="#1e90ff" stroke-width="2" stroke-linejoin="round"/>
<rect x="0" y="731" width="5" height="104" fill="#fff"/>
<rect x="4" y="732" width="1" height="103" fill="#000"/>
<rect x="1645" y="734" width="1" height="1" fill="#000"/>
<text x="1648.5" y="743" font-size="9.2" fill="#000" stroke="#000" stroke-width="0.25" text-anchor="start" textLength="14" lengthAdjust="spacingAndGlyphs">100</text>
<text x="1647" y="757" font-size="9.2" fill="#000" stroke="#000" stroke-width="0.25" text-anchor="start" textLength="10" lengthAdjust="spacingAndGlyphs">80</text>
<text x="1647" y="787" font-size="9.2" fill="#000" stroke="#000" stroke-width="0.25" text-anchor="start" textLength="10" lengthAdjust="spacingAndGlyphs">50</text>
<text x="1647" y="822" font-size="9.2" fill="#000" stroke="#000" stroke-width="0.25" text-anchor="start" textLength="10" lengthAdjust="spacingAndGlyphs">15</text>
<rect x="1645" y="833" width="1" height="1" fill="#000"/>
<text x="1648" y="831" font-size="9.2" fill="#000" stroke="#000" stroke-width="0.25" text-anchor="start" textLength="5" lengthAdjust="spacingAndGlyphs">0</text>
<text x="9" y="745" font-size="9.2" fill="#000" stroke="#000" stroke-width="0.25" text-anchor="start" textLength="68" lengthAdjust="spacingAndGlyphs">RSI(14) 55.7813</text>
<rect x="5" y="835" width="1" height="3" fill="#000"/>
<text x="4" y="847" font-size="9.2" fill="#000" stroke="#000" stroke-width="0.25" text-anchor="start" textLength="49.5" lengthAdjust="spacingAndGlyphs">8 May 2023</text>
<rect x="69" y="835" width="1" height="3" fill="#000"/>
<text x="68" y="847" font-size="9.2" fill="#000" stroke="#000" stroke-width="0.25" text-anchor="start" textLength="53" lengthAdjust="spacingAndGlyphs">8 May 20:00</text>
<rect x="133" y="835" width="1" height="3" fill="#000"/>
<text x="132" y="847" font-size="9.2" fill="#000" stroke="#000" stroke-width="0.25" text-anchor="start" textLength="53" lengthAdjust="spacingAndGlyphs">9 May 12:00</text>
<rect x="197" y="835" width="1" height="3" fill="#000"/>
<text x="196" y="847" font-size="9.2" fill="#000" stroke="#000" stroke-width="0.25" text-anchor="start" textLength="57.5" lengthAdjust="spacingAndGlyphs">10 May 04:00</text>
<rect x="261" y="835" width="1" height="3" fill="#000"/>
<text x="260" y="847" font-size="9.2" fill="#000" stroke="#000" stroke-width="0.25" text-anchor="start" textLength="57.5" lengthAdjust="spacingAndGlyphs">10 May 20:00</text>
<rect x="325" y="835" width="1" height="3" fill="#000"/>
<text x="324" y="847" font-size="9.2" fill="#000" stroke="#000" stroke-width="0.25" text-anchor="start" textLength="57.5" lengthAdjust="spacingAndGlyphs">11 May 12:00</text>
<rect x="389" y="835" width="1" height="3" fill="#000"/>
<text x="388" y="847" font-size="9.2" fill="#000" stroke="#000" stroke-width="0.25" text-anchor="start" textLength="57.5" lengthAdjust="spacingAndGlyphs">12 May 04:00</text>
<rect x="453" y="835" width="1" height="3" fill="#000"/>
<text x="452" y="847" font-size="9.2" fill="#000" stroke="#000" stroke-width="0.25" text-anchor="start" textLength="57.5" lengthAdjust="spacingAndGlyphs">14 May 23:00</text>
<rect x="517" y="835" width="1" height="3" fill="#000"/>
<text x="516" y="847" font-size="9.2" fill="#000" stroke="#000" stroke-width="0.25" text-anchor="start" textLength="57.5" lengthAdjust="spacingAndGlyphs">15 May 12:00</text>
<rect x="581" y="835" width="1" height="3" fill="#000"/>
<text x="580" y="847" font-size="9.2" fill="#000" stroke="#000" stroke-width="0.25" text-anchor="start" textLength="57.5" lengthAdjust="spacingAndGlyphs">16 May 04:00</text>
<rect x="645" y="835" width="1" height="3" fill="#000"/>
<text x="644" y="847" font-size="9.2" fill="#000" stroke="#000" stroke-width="0.25" text-anchor="start" textLength="57.5" lengthAdjust="spacingAndGlyphs">16 May 20:00</text>
<rect x="709" y="835" width="1" height="3" fill="#000"/>
<text x="708" y="847" font-size="9.2" fill="#000" stroke="#000" stroke-width="0.25" text-anchor="start" textLength="57.5" lengthAdjust="spacingAndGlyphs">17 May 12:00</text>
<rect x="773" y="835" width="1" height="3" fill="#000"/>
<text x="772" y="847" font-size="9.2" fill="#000" stroke="#000" stroke-width="0.25" text-anchor="start" textLength="57.5" lengthAdjust="spacingAndGlyphs">18 May 04:00</text>
<rect x="837" y="835" width="1" height="3" fill="#000"/>
<text x="836" y="847" font-size="9.2" fill="#000" stroke="#000" stroke-width="0.25" text-anchor="start" textLength="57.5" lengthAdjust="spacingAndGlyphs">18 May 20:00</text>
<rect x="901" y="835" width="1" height="3" fill="#000"/>
<text x="900" y="847" font-size="9.2" fill="#000" stroke="#000" stroke-width="0.25" text-anchor="start" textLength="57.5" lengthAdjust="spacingAndGlyphs">19 May 12:00</text>
<rect x="965" y="835" width="1" height="3" fill="#000"/>
<text x="964" y="847" font-size="9.2" fill="#000" stroke="#000" stroke-width="0.25" text-anchor="start" textLength="57.5" lengthAdjust="spacingAndGlyphs">22 May 04:00</text>
<rect x="1029" y="835" width="1" height="3" fill="#000"/>
<text x="1028" y="847" font-size="9.2" fill="#000" stroke="#000" stroke-width="0.25" text-anchor="start" textLength="57.5" lengthAdjust="spacingAndGlyphs">22 May 20:00</text>
<rect x="1093" y="835" width="1" height="3" fill="#000"/>
<text x="1092" y="847" font-size="9.2" fill="#000" stroke="#000" stroke-width="0.25" text-anchor="start" textLength="57.5" lengthAdjust="spacingAndGlyphs">23 May 12:00</text>
<rect x="1157" y="835" width="1" height="3" fill="#000"/>
<text x="1156" y="847" font-size="9.2" fill="#000" stroke="#000" stroke-width="0.25" text-anchor="start" textLength="57.5" lengthAdjust="spacingAndGlyphs">24 May 04:00</text>
<rect x="1221" y="835" width="1" height="3" fill="#000"/>
<text x="1220" y="847" font-size="9.2" fill="#000" stroke="#000" stroke-width="0.25" text-anchor="start" textLength="57.5" lengthAdjust="spacingAndGlyphs">24 May 20:00</text>
<rect x="1285" y="835" width="1" height="3" fill="#000"/>
<text x="1284" y="847" font-size="9.2" fill="#000" stroke="#000" stroke-width="0.25" text-anchor="start" textLength="57.5" lengthAdjust="spacingAndGlyphs">25 May 12:00</text>
<rect x="1349" y="835" width="1" height="3" fill="#000"/>
<text x="1348" y="847" font-size="9.2" fill="#000" stroke="#000" stroke-width="0.25" text-anchor="start" textLength="57.5" lengthAdjust="spacingAndGlyphs">26 May 04:00</text>
<text x="20" y="35" font-size="9.2" fill="#000" stroke="#000" stroke-width="0.25" text-anchor="start" textLength="186" lengthAdjust="spacingAndGlyphs">DJ30-,H4&#160; 33074.5 33169.5 33051.5 33123.5</text>
</g>
<polygon points="7.8,29.8 15.2,29.8 11.5,33.8" fill="#000"/>
<polygon points="1408.5,24 1418.5,24 1413.5,29" fill="#000"/></svg>
<div id="tb"><svg width="1692" height="19" viewBox="0 0 1692 19" style="position:absolute;left:0;top:0;display:block"><rect x="0" y="0" width="1692" height="19" fill="#f0f0f0"/>
<rect x="5" y="0" width="1" height="17" fill="#a0a0a0" shape-rendering="crispEdges"/>
<path d="M15.5 -2H23.5L27.5 2V12.5H15.5Z" fill="#fff" stroke="#909090" stroke-width="1"/>
<path d="M18 1.5H22M18 4.5H24M18 7.5H21" stroke="#808080" stroke-width="1"/>
<path d="M23 6H27V9.5H30.5V13.5H27V17H23V13.5H19.5V9.5H23Z" fill="url(#gp)" stroke="#0a900a" stroke-width="0.7"/>
<text x="33.5" y="9.6" font-size="12.3" fill="#000" style="font-family:'Liberation Sans','Noto Sans CJK SC',sans-serif">新订单</text>
<defs><linearGradient id="gd" x1="0" y1="0" x2="1" y2="1"><stop offset="0" stop-color="#b87a10"/><stop offset=".35" stop-color="#f6d23a"/><stop offset=".7" stop-color="#e0a818"/><stop offset="1" stop-color="#9a6208"/></linearGradient><linearGradient id="bl" x1="0" y1="0" x2="1" y2="0"><stop offset="0" stop-color="#1a78e0"/><stop offset=".35" stop-color="#3aa0f4"/><stop offset="1" stop-color="#1f7ae0"/></linearGradient><radialGradient id="rd" cx=".4" cy=".35" r=".8"><stop offset="0" stop-color="#f04a30"/><stop offset="1" stop-color="#c81808"/></radialGradient><linearGradient id="gp" x1="0" y1="0" x2="0" y2="1"><stop offset="0" stop-color="#3fe83f"/><stop offset=".5" stop-color="#12d412"/><stop offset="1" stop-color="#0aa00a"/></linearGradient></defs>
<path d="M86.7 -2L97.8 8.2L90.2 14.6L82 8.8Z" fill="url(#gd)" stroke="#8a5a08" stroke-width="0.9"/><path d="M91 13.2L97 8.3" stroke="#fff3c0" stroke-width="0.8"/>
<path d="M112.3 -3H123V8.5H112.3Z" fill="url(#bl)"/><path d="M115 -3V8" stroke="#8fd0ff" stroke-width="0.8"/><path d="M117.5 3H121.5" stroke="#e6f4ff" stroke-width="1.1"/>
<path d="M112.8 14.4C109.4 14.4 109.4 10 112.6 10.2C112.6 7.6 116.6 6.6 118 8.8C120 6.9 123.8 8 123.4 10.4C127 10 127 14.4 123.8 14.4Z" fill="#f2f5fa" stroke="#4f6eb0" stroke-width="0.9"/>
<path d="M146 6.5L146 14.6A8.1 8.1 0 0 0 153.8 4.5Z" fill="#9fcf9f" opacity=".8"/><path d="M146 6.5L146 11.5A5 5 0 0 0 150.8 5Z" fill="#5fb85f" opacity=".8"/>
<g fill="none"><path d="M146 14.4A7.9 7.9 0 1 1 153.6 4.4" stroke="#9ab8e8" stroke-width="1.1"/><path d="M146 11.4A4.9 4.9 0 1 1 150.7 5" stroke="#5f8ad8" stroke-width="1.2"/></g><circle cx="145.8" cy="6.3" r="1.6" fill="#2050c8"/><path d="M146.4 7.5V14.6" stroke="#18a818" stroke-width="1.4"/>
<path d="M166.3 5.5L180.5 5.5L176 12L173.6 14.6L171.5 13Z" fill="#f4cc38" stroke="#c8980c" stroke-width="0.7"/>
<path d="M170.6 -3H175.2L176.4 2.6C179.6 2.8 181.4 3.8 181 4.9C178 7 169 7.2 165.2 4.9C164.8 3.8 166.8 2.8 169.4 2.6Z" fill="#56aae4" stroke="#2a84c8" stroke-width="0.7"/>
<circle cx="177.5" cy="10.7" r="4.1" fill="url(#rd)"/><rect x="175.9" y="9.1" width="3.2" height="3.2" fill="#fff"/>
<text x="185.4" y="9.5" font-size="12.3" fill="#000" style="font-family:'Liberation Sans','Noto Sans CJK SC',sans-serif">自动交易</text>
<rect x="241" y="0" width="1" height="19" fill="#a0a0a0" shape-rendering="crispEdges"/>
<rect x="242" y="0" width="1" height="19" fill="#fff" shape-rendering="crispEdges"/>
<rect x="245" y="1" width="3" height="1" fill="#a8a8a8" shape-rendering="crispEdges"/>
<rect x="245" y="3" width="3" height="1" fill="#a8a8a8" shape-rendering="crispEdges"/>
<rect x="245" y="5" width="3" height="1" fill="#a8a8a8" shape-rendering="crispEdges"/>
<rect x="245" y="7" width="3" height="1" fill="#a8a8a8" shape-rendering="crispEdges"/>
<rect x="245" y="9" width="3" height="1" fill="#a8a8a8" shape-rendering="crispEdges"/>
<rect x="245" y="11" width="3" height="1" fill="#a8a8a8" shape-rendering="crispEdges"/>
<rect x="245" y="13" width="3" height="1" fill="#a8a8a8" shape-rendering="crispEdges"/>
<rect x="245" y="15" width="3" height="1" fill="#a8a8a8" shape-rendering="crispEdges"/>
<g stroke="#505050" stroke-width="1.2" fill="none"><path d="M259.5 1.5V14.5M257 12.5H270.5"/><path d="M257.8 3.7L259.5 1.5L261.2 3.7M268.6 10.8L270.5 12.5L268.6 14.2" stroke-width="1"/></g>
<path d="M265.5 3V10.5M265.5 3.5H268M263 9.5H265.5" stroke="#109010" stroke-width="1.5" fill="none"/>
<rect x="279" y="0" width="1" height="17" fill="#a0a0a0" shape-rendering="crispEdges"/>
<rect x="280" y="0" width="25" height="17" fill="#f9f9f9" shape-rendering="crispEdges"/>
<g stroke="#505050" stroke-width="1.2" fill="none"><path d="M287.5 1.5V14.5M285 12.5H298.5"/><path d="M285.8 3.7L287.5 1.5L289.2 3.7M296.6 10.8L298.5 12.5L296.6 14.2" stroke-width="1"/></g>
<path d="M293.5 -1V10.5" stroke="#0a7a0a" stroke-width="1.2"/><rect x="291.3" y="1.8" width="4.4" height="6.6" fill="#3ddc3d" stroke="#0a8a0a" stroke-width="1"/>
<g stroke="#505050" stroke-width="1.2" fill="none"><path d="M315.5 1.5V14.5M313 12.5H326.5"/><path d="M313.8 3.7L315.5 1.5L317.2 3.7M324.6 10.8L326.5 12.5L324.6 14.2" stroke-width="1"/></g>
<path d="M314 10C316.5 8.5 318 4 320.5 4C322.5 4 324 7.5 326 8" stroke="#2e9a2e" stroke-width="1.3" fill="none"/>
<rect x="336" y="0" width="1" height="17" fill="#a0a0a0" shape-rendering="crispEdges"/>
<path d="M355.2 9L361.2 14.5" stroke="#c9a227" stroke-width="3" stroke-linecap="round"/><path d="M355.7 9.2L360.7 13.8" stroke="#f3df83" stroke-width="1"/>
<circle cx="351.2" cy="5" r="5.8" fill="#d9ecfa" stroke="#2f7fd0" stroke-width="1.3"/>
<path d="M348.2 5H354.2" stroke="#3b7fb0" stroke-width="1.6"/>
<path d="M351.2 2V8" stroke="#3b7fb0" stroke-width="1.6"/>
<path d="M383.2 9L389.2 14.5" stroke="#c9a227" stroke-width="3" stroke-linecap="round"/><path d="M383.7 9.2L388.7 13.8" stroke="#f3df83" stroke-width="1"/>
<circle cx="379.2" cy="5" r="5.8" fill="#d9ecfa" stroke="#2f7fd0" stroke-width="1.3"/>
<path d="M376.2 5H382.2" stroke="#3b7fb0" stroke-width="1.6"/>
<rect x="401" y="-1" width="7.7" height="7.3" fill="#4aa82a"/><rect x="402.2" y="1.6" width="5.3" height="3.6" fill="#fff"/><rect x="403.2" y="2.9" width="3.3" height="1" fill="#4aa82a" opacity=".6"/>
<rect x="409.3" y="-1" width="7.7" height="7.3" fill="#2f6fe0"/><rect x="410.5" y="1.6" width="5.3" height="3.6" fill="#fff"/><rect x="411.5" y="2.9" width="3.3" height="1" fill="#2f6fe0" opacity=".6"/>
<rect x="401" y="7.2" width="7.7" height="7.3" fill="#2f6fe0"/><rect x="402.2" y="9.8" width="5.3" height="3.6" fill="#fff"/><rect x="403.2" y="11.1" width="3.3" height="1" fill="#2f6fe0" opacity=".6"/>
<rect x="409.3" y="7.2" width="7.7" height="7.3" fill="#4aa82a"/><rect x="410.5" y="9.8" width="5.3" height="3.6" fill="#fff"/><rect x="411.5" y="11.1" width="3.3" height="1" fill="#4aa82a" opacity=".6"/>
<rect x="426" y="0" width="1" height="17" fill="#a0a0a0" shape-rendering="crispEdges"/>
<rect x="431" y="0" width="1" height="17" fill="#a0a0a0" shape-rendering="crispEdges"/>
<rect x="432" y="0" width="24" height="17" fill="#f9f9f9" shape-rendering="crispEdges"/>
<g stroke="#505050" stroke-width="1.2" fill="none"><path d="M439.5 1.5V14.5M437 12.5H450.5"/><path d="M437.8 3.7L439.5 1.5L441.2 3.7M448.6 10.8L450.5 12.5L448.6 14.2" stroke-width="1"/></g>
<path d="M444.3 3L448.6 6.5L444.3 10Z" fill="#4fd04f" stroke="#109010" stroke-width="1"/>
<rect x="459" y="0" width="1" height="17" fill="#a0a0a0" shape-rendering="crispEdges"/>
<rect x="460" y="0" width="24" height="17" fill="#f9f9f9" shape-rendering="crispEdges"/>
<g stroke="#505050" stroke-width="1.2" fill="none"><path d="M467.5 1.5V14.5M465 12.5H478.5"/><path d="M465.8 3.7L467.5 1.5L469.2 3.7M476.6 10.8L478.5 12.5L476.6 14.2" stroke-width="1"/></g>
<path d="M473.7 1V10.5" stroke="#1f6f9f" stroke-width="1.3"/><path d="M475 6.5H479.5M477.3 4.2L475 6.5L477.3 8.8" stroke="#e04a10" stroke-width="1.2" fill="none"/>
<rect x="488" y="0" width="1" height="17" fill="#a0a0a0" shape-rendering="crispEdges"/>
<path d="M498.5 -2H506L510 2V12.5H498.5Z" fill="#fafafa" stroke="#909090" stroke-width="1"/><path d="M501.5 2V9M501.5 3.5H503" stroke="#707070" stroke-width="1" fill="none"/>
<path d="M506 5.5H510.4V9H514V13.2H510.4V16.7H506V13.2H502.3V9H506Z" fill="url(#gp)" stroke="#0a900a" stroke-width="0.7"/>
<polygon points="519.7,6 525.7,6 522.7,9.5" fill="#000"/>
<circle cx="543.8" cy="7.3" r="7" fill="#fff" stroke="#1f74d8" stroke-width="2.4"/><path d="M543.5 3V7.5H546.5" stroke="#404040" stroke-width="1.1" fill="none"/>
<polygon points="558.7,6 564.7,6 561.7,9.5" fill="#000"/>
<rect x="575.5" y="-1" width="15.3" height="14.5" fill="#fff" stroke="#2f6fd0" stroke-width="1.2"/><rect x="575" y="-1" width="16.3" height="2.8" fill="#4a8ae0"/><path d="M575.5 8H590.8" stroke="#2f6fd0" stroke-width="1"/>
<path d="M577.5 6.2L580 5L582 4.2L584 5.3L586 4.6L588.8 4" stroke="#b02010" stroke-width="1.2" fill="none"/><path d="M577.8 11.5L580.5 10.6L582.5 11.3L585.5 9.2L588.5 11.5" stroke="#109020" stroke-width="1.2" fill="none"/>
<polygon points="597.7,6 603.7,6 600.7,9.5" fill="#000"/>
<rect x="609" y="0" width="1" height="19" fill="#a0a0a0" shape-rendering="crispEdges"/>
<rect x="610" y="0" width="1" height="19" fill="#fff" shape-rendering="crispEdges"/>
<rect x="613" y="1" width="3" height="1" fill="#a8a8a8" shape-rendering="crispEdges"/>
<rect x="613" y="3" width="3" height="1" fill="#a8a8a8" shape-rendering="crispEdges"/>
<rect x="613" y="5" width="3" height="1" fill="#a8a8a8" shape-rendering="crispEdges"/>
<rect x="613" y="7" width="3" height="1" fill="#a8a8a8" shape-rendering="crispEdges"/>
<rect x="613" y="9" width="3" height="1" fill="#a8a8a8" shape-rendering="crispEdges"/>
<rect x="613" y="11" width="3" height="1" fill="#a8a8a8" shape-rendering="crispEdges"/>
<rect x="613" y="13" width="3" height="1" fill="#a8a8a8" shape-rendering="crispEdges"/>
<rect x="613" y="15" width="3" height="1" fill="#a8a8a8" shape-rendering="crispEdges"/>
<rect x="619" y="0" width="1" height="17" fill="#a0a0a0" shape-rendering="crispEdges"/>
<rect x="620" y="0" width="24" height="17" fill="#f9f9f9" shape-rendering="crispEdges"/>
<path d="M627.3 -2V10.2L630 7.8L632.6 14.2L634.3 13.5L631.8 7.2L635.2 7.2Z" fill="#505050"/>
<path d="M659.5 0V6M659.5 9V15M659 7.5H660M652 7.5H658M661 7.5H667" stroke="#505050" stroke-width="1" fill="none" shape-rendering="crispEdges"/>
<rect x="676" y="0" width="1" height="17" fill="#a0a0a0" shape-rendering="crispEdges"/>
<path d="M693.5 1V14M716 7.5H728" stroke="#505050" stroke-width="1" fill="none" shape-rendering="crispEdges"/>
<path d="M743.8 13.8L755.8 1.9" stroke="#505050" stroke-width="1.1"/>
<g stroke="#505050" stroke-width="0.9" fill="none"><path d="M770 9L782 -0.5M771.5 13.5L784 4M772.5 7L773.5 12.5M775.5 4.5L776.5 10M778.5 2L779.5 8M781.5 0L782.5 5.5"/></g>
<text x="780.5" y="15.6" font-size="6.5" font-weight="bold" fill="#303030" style="font-family:'Liberation Sans',sans-serif">E</text>
<path d="M799 0.5H812" stroke="#505050" stroke-width="1" stroke-dasharray="1 1" shape-rendering="crispEdges"/>
<path d="M799 3.5H812" stroke="#505050" stroke-width="1" stroke-dasharray="1 1" shape-rendering="crispEdges"/>
<path d="M799 7.5H812" stroke="#505050" stroke-width="1" stroke-dasharray="1 1" shape-rendering="crispEdges"/>
<path d="M799 11.5H812" stroke="#505050" stroke-width="1" stroke-dasharray="1 1" shape-rendering="crispEdges"/>
<rect x="806" y="10" width="8" height="7" fill="#f0f0f0"/><text x="808.6" y="15.6" font-size="6.5" font-weight="bold" fill="#303030" style="font-family:'Liberation Sans',sans-serif">F</text>
<text x="829.6" y="12" font-size="12.6" fill="#505050" style="font-family:'Liberation Sans',sans-serif">A</text>
<rect x="856.5" y="0.5" width="11" height="13" fill="none" stroke="#505050" stroke-width="1" stroke-dasharray="1 1" shape-rendering="crispEdges"/><text x="858.2" y="12" font-size="11.5" fill="#505050" style="font-family:'Liberation Sans',sans-serif">T</text>
<path d="M886.5 0.5L889.5 3.5L886.5 5.5L883.5 3.5Z M893.5 8.5L897 11L893.5 14L890 11Z" fill="#505050"/><path d="M885.5 8.5L888 10.5L892 5" stroke="#505050" stroke-width="1.3" fill="none"/>
<polygon points="903.7,6 909.7,6 906.7,9.5" fill="#000"/>
<rect x="915" y="0" width="1" height="19" fill="#a0a0a0" shape-rendering="crispEdges"/>
<rect x="916" y="0" width="1" height="19" fill="#fff" shape-rendering="crispEdges"/>
<rect x="919" y="1" width="3" height="1" fill="#a8a8a8" shape-rendering="crispEdges"/>
<rect x="919" y="3" width="3" height="1" fill="#a8a8a8" shape-rendering="crispEdges"/>
<rect x="919" y="5" width="3" height="1" fill="#a8a8a8" shape-rendering="crispEdges"/>
<rect x="919" y="7" width="3" height="1" fill="#a8a8a8" shape-rendering="crispEdges"/>
<rect x="919" y="9" width="3" height="1" fill="#a8a8a8" shape-rendering="crispEdges"/>
<rect x="919" y="11" width="3" height="1" fill="#a8a8a8" shape-rendering="crispEdges"/>
<rect x="919" y="13" width="3" height="1" fill="#a8a8a8" shape-rendering="crispEdges"/>
<rect x="919" y="15" width="3" height="1" fill="#a8a8a8" shape-rendering="crispEdges"/>
<rect x="1066" y="0" width="24" height="17" fill="#f9f9f9" shape-rendering="crispEdges"/>
<rect x="1065" y="0" width="1" height="17" fill="#a0a0a0" shape-rendering="crispEdges"/>
<text x="930.5" y="10.8" font-size="10.2" fill="#383838" textLength="13" lengthAdjust="spacingAndGlyphs" style="font-family:'Liberation Sans',sans-serif">M1</text>
<text x="958.7" y="10.8" font-size="10.2" fill="#383838" textLength="13" lengthAdjust="spacingAndGlyphs" style="font-family:'Liberation Sans',sans-serif">M5</text>
<text x="984.4" y="10.8" font-size="10.2" fill="#383838" textLength="18" lengthAdjust="spacingAndGlyphs" style="font-family:'Liberation Sans',sans-serif">M15</text>
<text x="1012.4" y="10.8" font-size="10.2" fill="#383838" textLength="18" lengthAdjust="spacingAndGlyphs" style="font-family:'Liberation Sans',sans-serif">M30</text>
<text x="1043.6" y="10.8" font-size="10.2" fill="#383838" textLength="12" lengthAdjust="spacingAndGlyphs" style="font-family:'Liberation Sans',sans-serif">H1</text>
<text x="1070.4" y="10.8" font-size="10.2" fill="#383838" textLength="12.4" lengthAdjust="spacingAndGlyphs" style="font-family:'Liberation Sans',sans-serif">H4</text>
<text x="1099.5" y="10.8" font-size="10.2" fill="#383838" textLength="11.8" lengthAdjust="spacingAndGlyphs" style="font-family:'Liberation Sans',sans-serif">D1</text>
<text x="1127.2" y="10.8" font-size="10.2" fill="#383838" textLength="14" lengthAdjust="spacingAndGlyphs" style="font-family:'Liberation Sans',sans-serif">W1</text>
<text x="1153.6" y="10.8" font-size="10.2" fill="#383838" textLength="15" lengthAdjust="spacingAndGlyphs" style="font-family:'Liberation Sans',sans-serif">MN</text>
<rect x="1176" y="0" width="1" height="19" fill="#a0a0a0" shape-rendering="crispEdges"/>
<rect x="1177" y="0" width="1" height="19" fill="#fff" shape-rendering="crispEdges"/>
<path d="M1643.3 8.2L1638.8 12" stroke="#2a63d4" stroke-width="2.2" stroke-linecap="round"/><circle cx="1646.6" cy="4.6" r="4" fill="#f4f6ff" stroke="#2a5fd0" stroke-width="1.3"/>
<path d="M1664 8.5C1664 5.5 1667 4 1670 4C1673 4 1676 5.5 1676 8.5C1676 11.5 1673 13 1670 13C1669 13 1668.3 12.9 1667.5 12.7L1666.3 15.5L1666 12C1664.8 11.2 1664 10 1664 8.5Z" fill="#e6e6ee" stroke="#b0b0b0" stroke-width="0.9"/>
<circle cx="1677.4" cy="4" r="8.5" fill="url(#rd)"/><text x="1673.4" y="9" font-size="12.5" fill="#fff" stroke="#fff" stroke-width="0.3" style="font-family:'Liberation Serif',serif">1</text></svg></div>
<div id="frame-t"></div><div id="frame-l"></div><div id="frame-r"></div><div id="frame-b"></div>
</body></html>
